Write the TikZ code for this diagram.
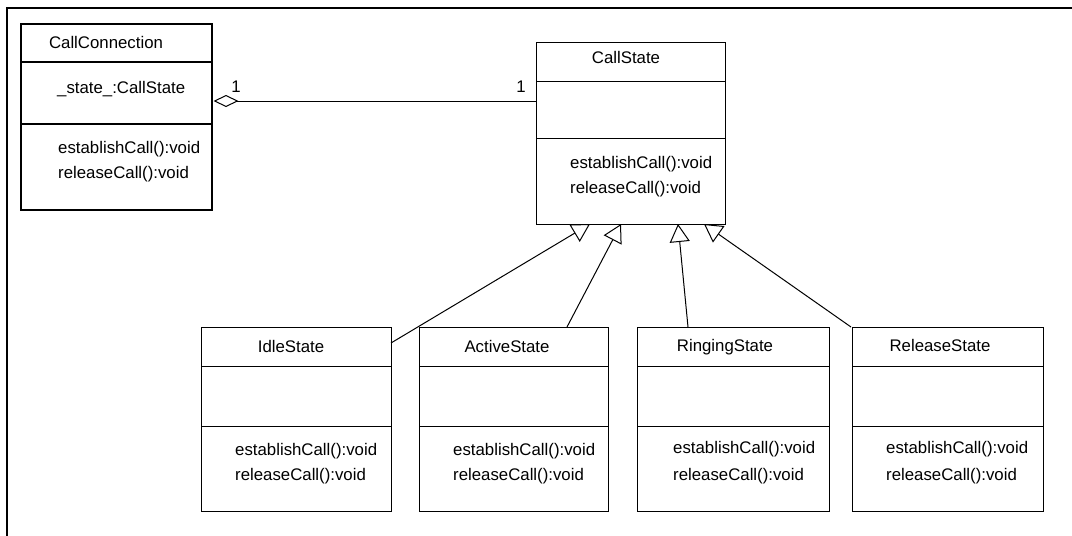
\documentclass[tikz,border=0pt]{standalone}
\usepackage{fontspec}
\setmainfont{Liberation Sans}
\usetikzlibrary{arrows.meta}
\tikzset{
  clsbox/.style={draw, line width=1pt, anchor=north west, inner sep=0pt, outer sep=0pt},
  thickbox/.style={clsbox, line width=2.6pt},
  divider/.style={line width=1pt},
  thickdiv/.style={line width=2.4pt},
  ttl/.style={anchor=base, inner sep=0pt, font=\fontsize{16.8}{19}\selectfont},
  mth/.style={anchor=base west, inner sep=0pt, font=\fontsize{16.8}{19}\selectfont},
  mult/.style={anchor=base, inner sep=0pt, font=\fontsize{16.8}{19}\selectfont},
  gen/.style={line width=1pt, -{Triangle[open, length=18pt, width=20pt, line width=1pt]}},
  agg/.style={line width=1pt, {Diamond[open, length=25pt, width=12pt, line width=1pt]}-},
  frame/.style={line width=2.2pt}
}
\begin{document}
\begin{tikzpicture}[x=1pt,y=-1pt]
\useasboundingbox (0,0) rectangle (1072,536);
\fill[white] (0,0) rectangle (1072,536);
% outer frame (top and left only)
\coordinate (fA) at (7,536);
\coordinate (fB) at (7,8);
\coordinate (fC) at (1072,8);
\draw[frame] (fA) -- (fB) -- (fC);

% CallConnection
\node[thickbox, minimum width=191pt, minimum height=186pt] (conn) at (21,24) {};
\draw[thickdiv] (21,62) -- (212,62);
\draw[thickdiv] (21,124) -- (212,124);
\node[ttl] (connT) at (106,48) {CallConnection};
\node[mth] (connA) at (57,93) {\_state\_:CallState};
\node[mth] (connM1) at (58,153) {establishCall():void};
\node[mth] (connM2) at (58,178) {releaseCall():void};

% CallState
\node[clsbox, minimum width=189pt, minimum height=182pt] (cs) at (536,42) {};
\draw[divider] (536,81) -- (725,81);
\draw[divider] (536,138) -- (725,138);
\node[ttl] (csT) at (626,63) {CallState};
\node[mth] (csM1) at (570,168) {establishCall():void};
\node[mth] (csM2) at (570,193) {releaseCall():void};

% IdleState
\node[clsbox, minimum width=190pt, minimum height=184pt] (idle) at (201,327) {};
\draw[divider] (201,366) -- (391,366);
\draw[divider] (201,426) -- (391,426);
\node[ttl] (idleT) at (291,352) {IdleState};
\node[mth] (idleM1) at (235,455) {establishCall():void};
\node[mth] (idleM2) at (235,480) {releaseCall():void};

% ActiveState
\node[clsbox, minimum width=189pt, minimum height=184pt] (active) at (419,327) {};
\draw[divider] (419,366) -- (608,366);
\draw[divider] (419,426) -- (608,426);
\node[ttl] (activeT) at (507,352) {ActiveState};
\node[mth] (activeM1) at (453,455) {establishCall():void};
\node[mth] (activeM2) at (453,480) {releaseCall():void};

% RingingState
\node[clsbox, minimum width=192pt, minimum height=184pt] (ring) at (637,327) {};
\draw[divider] (637,366) -- (829,366);
\draw[divider] (637,426) -- (829,426);
\node[ttl] (ringT) at (725,351) {RingingState};
\node[mth] (ringM1) at (673,453) {establishCall():void};
\node[mth] (ringM2) at (673,480) {releaseCall():void};

% ReleaseState
\node[clsbox, minimum width=191pt, minimum height=184pt] (rel) at (852,327) {};
\draw[divider] (852,366) -- (1043,366);
\draw[divider] (852,426) -- (1043,426);
\node[ttl] (relT) at (940,351) {ReleaseState};
\node[mth] (relM1) at (886,453) {establishCall():void};
\node[mth] (relM2) at (886,480) {releaseCall():void};

% aggregation
\coordinate (aggS) at (213.5,101);
\coordinate (aggE) at (536,101);
\draw[agg] (aggS) -- (aggE);
\node[mult] (m1) at (236,92) {1};
\node[mult] (m2) at (521,92) {1};

% generalisations
\coordinate (idleS) at (391,343);
\coordinate (idleE) at (590,224);
\coordinate (actS) at (567,327);
\coordinate (actE) at (621,224);
\coordinate (ringS) at (688,327);
\coordinate (ringE) at (678,224);
\coordinate (relS) at (851,327);
\coordinate (relE) at (704,224);
\draw[gen] (idleS) -- (idleE);
\draw[gen] (actS) -- (actE);
\draw[gen] (ringS) -- (ringE);
\draw[gen] (relS) -- (relE);
\end{tikzpicture}
\end{document}
